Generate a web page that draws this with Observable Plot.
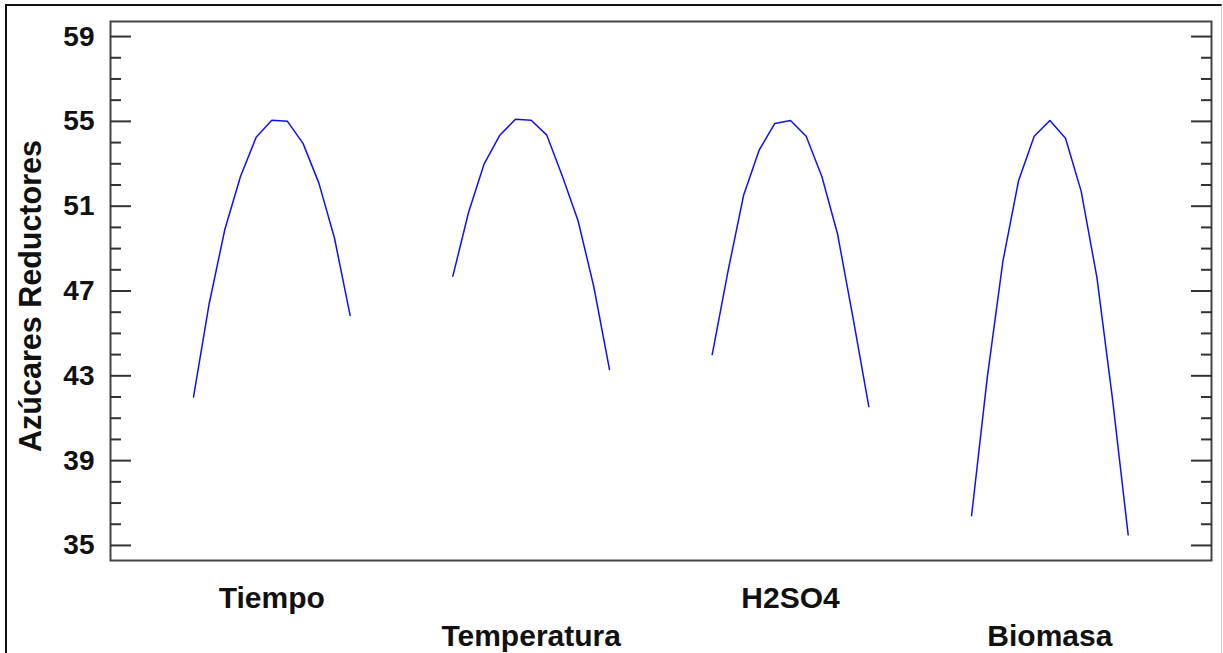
<!DOCTYPE html>
<html>
<head>
<meta charset="utf-8">
<script src="https://cdn.jsdelivr.net/npm/d3@7"></script>
<script src="https://cdn.jsdelivr.net/npm/@observablehq/plot@0.6"></script>
<style>
  html, body { margin: 0; padding: 0; background: #fff; }
  #wrap { position: relative; width: 1223px; height: 653px; overflow: hidden; }
  #border { position: absolute; left: 5px; top: 4px; width: 1214px; height: 660px;
            border-top: 2px solid #111; border-left: 2px solid #111; border-right: 1px solid #cfcfcf; pointer-events: none; }
  svg { font-family: Arial, "Liberation Sans", sans-serif; }
</style>
</head>
<body>
<div id="wrap"><div id="border"></div></div>
<script>
// ---- data ----
const factors = ["Tiempo", "Temperatura", "H2SO4", "Biomasa"];
const levels = [-1, -0.8, -0.6, -0.4, -0.2, 0, 0.2, 0.4, 0.6, 0.8, 1];
const tiempo      = [42.0, 46.4, 49.9, 52.4, 54.25, 55.05, 55.0, 53.95, 52.1, 49.5, 45.85];
const temperatura = [47.7, 50.7, 53.0, 54.35, 55.1, 55.05, 54.35, 52.4, 50.3, 47.2, 43.3];
const h2so4       = [44.0, 47.9, 51.5, 53.65, 54.9, 55.04, 54.3, 52.4, 49.7, 45.7, 41.55];
const biomasa     = [36.4, 42.9, 48.4, 52.2, 54.3, 55.04, 54.2, 51.7, 47.65, 41.9, 35.5];
const majorTicks = [35, 39, 43, 47, 51, 55, 59];
const minorTicks = [36, 37, 38, 40, 41, 42, 44, 45, 46, 48, 49, 50, 52, 53, 54, 56, 57, 58];
const yTitle = "Azúcares Reductores";

// ---- layout ----
const series = [tiempo, temperatura, h2so4, biomasa];
const slot = 3.312;            // horizontal spacing between factor panels (in coded units)
const rows = [];
series.forEach((vals, i) => vals.forEach((v, j) => rows.push({factor: factors[i], x: i * slot + levels[j], y: v})));
const labels = factors.map((f, i) => ({factor: f, x: i * slot, row: i % 2}));

const chart = Plot.plot({
  width: 1223,
  height: 653,
  marginLeft: 110,
  marginRight: 12,
  marginTop: 21,
  marginBottom: 93,
  style: {fontFamily: 'Arial, "Liberation Sans", sans-serif', background: "transparent", overflow: "visible"},
  x: {domain: [-2.06, 12.0], axis: null},
  y: {domain: [34.29, 59.71], axis: null},
  marks: [
    Plot.frame({stroke: "#444", strokeWidth: 2}),
    // tick labels
    Plot.axisY(majorTicks, {anchor: "left", tickSize: 0, tickPadding: 16, fontSize: 28, fontWeight: "bold", fill: "#111", label: null}),
    // inward ticks, left and right
    Plot.axisY(majorTicks, {anchor: "left", tickSize: -21, fill: "none", stroke: "#333", strokeWidth: 2, label: null}),
    Plot.axisY(minorTicks, {anchor: "left", tickSize: -11, fill: "none", stroke: "#333", strokeWidth: 2, label: null}),
    Plot.axisY(majorTicks, {anchor: "right", tickSize: -21, fill: "none", stroke: "#333", strokeWidth: 2, label: null}),
    Plot.axisY(minorTicks, {anchor: "right", tickSize: -11, fill: "none", stroke: "#333", strokeWidth: 2, label: null}),
    // effect curves
    Plot.line(rows, {x: "x", y: "y", z: "factor", stroke: "#0f0fff", strokeWidth: 1.5}),
    // factor labels below
    Plot.text(labels.filter(d => d.row === 0), {x: "x", text: "factor", frameAnchor: "bottom", lineAnchor: "middle", dy: 37.5, fontSize: 30, fontWeight: "bold", fill: "#111"}),
    Plot.text(labels.filter(d => d.row === 1), {x: "x", text: "factor", frameAnchor: "bottom", lineAnchor: "middle", dy: 75.5, fontSize: 30, fontWeight: "bold", fill: "#111"}),
    // y title
    Plot.text([yTitle], {frameAnchor: "left", textAnchor: "middle", dx: -70, dy: 5, rotate: -90, lineAnchor: "bottom", fontSize: 30.5, fontWeight: "bold", fill: "#111"})
  ]
});
document.getElementById("wrap").prepend(chart);
</script>
</body>
</html>
